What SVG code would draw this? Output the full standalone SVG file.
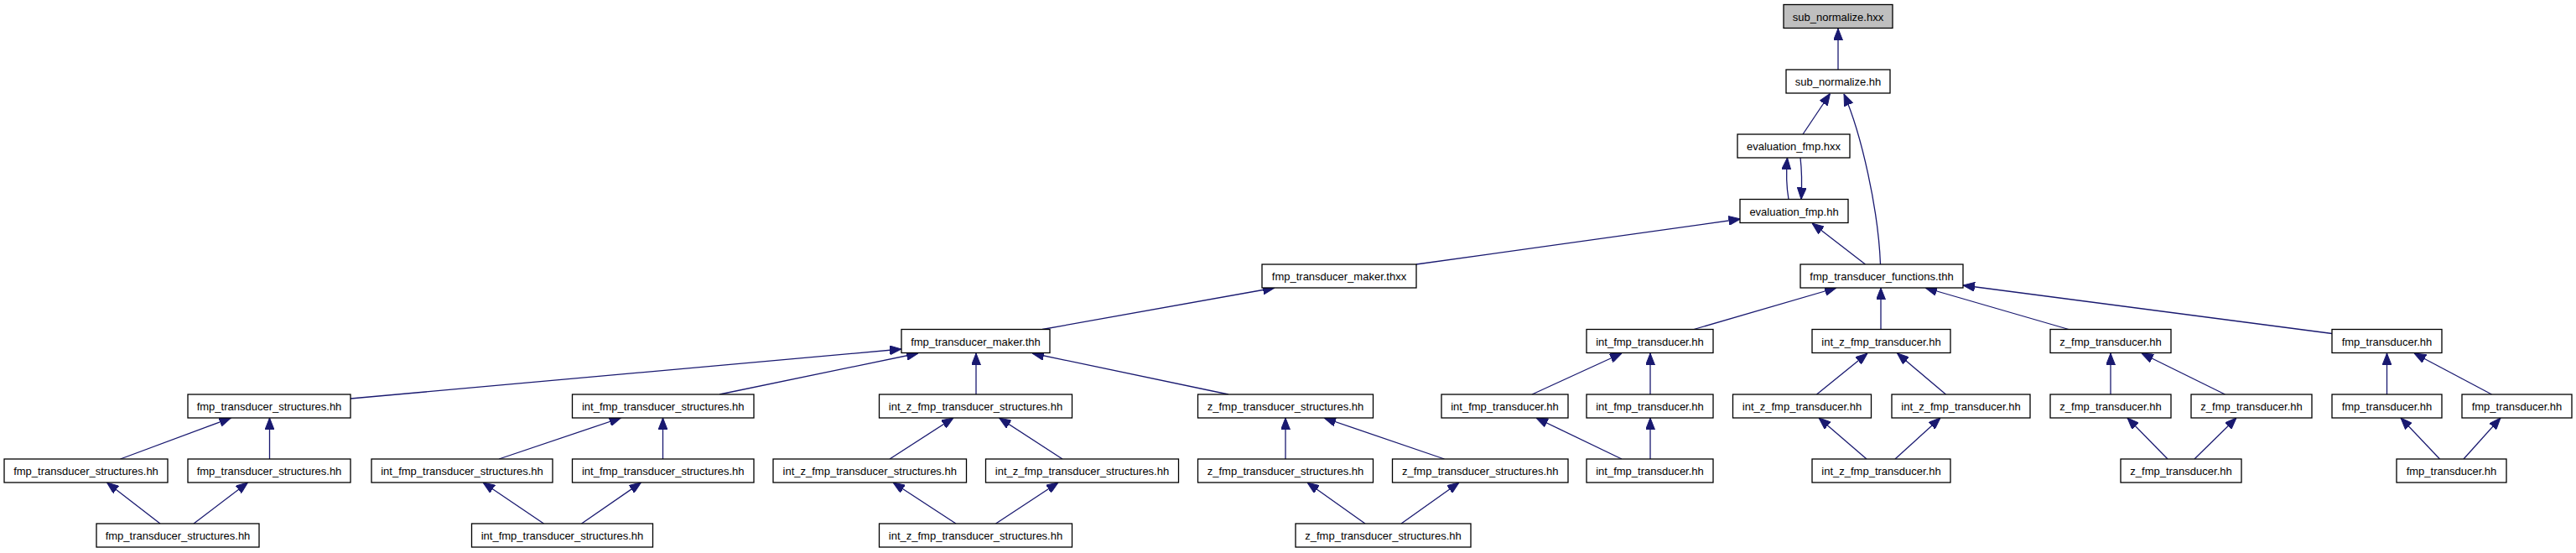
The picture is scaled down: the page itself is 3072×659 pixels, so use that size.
<svg xmlns="http://www.w3.org/2000/svg" width="3072" height="659" viewBox="0 0 3072 659">
<style>
.n rect{fill:#ffffff;stroke:#000000;stroke-width:1.3}
.n.root rect{fill:#bfbfbf}
.n text{font-family:"Liberation Sans",Arial,sans-serif;font-size:13px;fill:#000000;text-anchor:middle}
.e path{fill:none;stroke:#191970;stroke-width:1.3;marker-end:url(#ah)}
</style>
<defs>
<marker id="ah" viewBox="0 0 14 11" markerWidth="14" markerHeight="11" refX="14" refY="5.5" orient="auto" markerUnits="userSpaceOnUse">
<path d="M0,0 L14,5.5 L0,11 z" fill="#191970" stroke="#191970" stroke-width="1"/>
</marker>
</defs>
<rect x="0" y="0" width="3072" height="659" fill="#ffffff"/>
<g id="connectors" class="e">
<path d="M2192,83 L2192,34"/>
<path d="M2150,160 L2182.5,111.5"/>
<path d="M2242.5,315 C2240,250 2220,160 2199,112"/>
<path d="M2133,237.5 C2130,220 2130,205 2131.5,188"/>
<path d="M2147,188 C2149,205 2149,220 2148,237.5"/>
<path d="M2224.5,315 L2161,266"/>
<path d="M1689,315 L2075.5,261"/>
<path d="M1243,392.5 L1520,343"/>
<path d="M418,475 L1075,416"/>
<path d="M858,470 L1095,421"/>
<path d="M1164,470 L1164,421"/>
<path d="M1465,470 L1231,421"/>
<path d="M2020,392.5 L2190,343"/>
<path d="M2243,392.5 L2243,343"/>
<path d="M2467,392.5 L2296,343"/>
<path d="M2781,397.5 L2341,340"/>
<path d="M1827,470 L1934,421"/>
<path d="M1968,470 L1968,421"/>
<path d="M2166.5,470 L2227,421"/>
<path d="M2320.5,470 L2262.5,421"/>
<path d="M2517,470 L2517,421"/>
<path d="M2653.5,470 L2554,421"/>
<path d="M2846.5,470 L2846.5,421"/>
<path d="M2971.5,470 L2879,421"/>
<path d="M1934,547 L1832,498"/>
<path d="M1968,547 L1968,498"/>
<path d="M2226,547 L2169,498"/>
<path d="M2260,547 L2314,498"/>
<path d="M2585,547 L2537,498"/>
<path d="M2617,547 L2667,498"/>
<path d="M2909.5,547 L2863,498"/>
<path d="M2938,547 L2982,498"/>
<path d="M143.5,547 L275.5,498"/>
<path d="M321.5,547 L321.5,498"/>
<path d="M595,547 L740.5,498"/>
<path d="M790.5,547 L790.5,498"/>
<path d="M1061,547 L1137,498"/>
<path d="M1267,547 L1191.5,498"/>
<path d="M1533,547 L1533,498"/>
<path d="M1722.5,547 L1579,498"/>
<path d="M191,624 L127.5,575"/>
<path d="M231,624 L295.5,575"/>
<path d="M648.5,624 L576,575"/>
<path d="M693.5,624 L764.5,575"/>
<path d="M1140,624 L1065,575"/>
<path d="M1187.5,624 L1262,575"/>
<path d="M1628,624 L1559,575"/>
<path d="M1671,624 L1740,575"/>
</g>
<g id="n0" class="n root"><rect x="2127" y="5.5" width="130" height="28"/><text x="2192" y="24.5">sub_normalize.hxx</text></g>
<g id="n1" class="n"><rect x="2130" y="83" width="124" height="28"/><text x="2192" y="102">sub_normalize.hh</text></g>
<g id="n2" class="n"><rect x="2072" y="160" width="134" height="28"/><text x="2139" y="179">evaluation_fmp.hxx</text></g>
<g id="n3" class="n"><rect x="2075" y="237.5" width="129" height="28"/><text x="2139.5" y="256.5">evaluation_fmp.hh</text></g>
<g id="n4" class="n"><rect x="1505" y="315" width="184" height="28"/><text x="1597" y="334">fmp_transducer_maker.thxx</text></g>
<g id="n5" class="n"><rect x="2147" y="315" width="194" height="28"/><text x="2244" y="334">fmp_transducer_functions.thh</text></g>
<g id="n6" class="n"><rect x="1075" y="392.5" width="177" height="28"/><text x="1163.5" y="411.5">fmp_transducer_maker.thh</text></g>
<g id="n7" class="n"><rect x="1892" y="392.5" width="151" height="28"/><text x="1967.5" y="411.5">int_fmp_transducer.hh</text></g>
<g id="n8" class="n"><rect x="2161" y="392.5" width="165" height="28"/><text x="2243.5" y="411.5">int_z_fmp_transducer.hh</text></g>
<g id="n9" class="n"><rect x="2445" y="392.5" width="144" height="28"/><text x="2517" y="411.5">z_fmp_transducer.hh</text></g>
<g id="n10" class="n"><rect x="2781" y="392.5" width="131" height="28"/><text x="2846.5" y="411.5">fmp_transducer.hh</text></g>
<g id="n11" class="n"><rect x="224" y="470" width="194" height="28"/><text x="321" y="489">fmp_transducer_structures.hh</text></g>
<g id="n12" class="n"><rect x="682.5" y="470" width="216.5" height="28"/><text x="790.75" y="489">int_fmp_transducer_structures.hh</text></g>
<g id="n13" class="n"><rect x="1048.5" y="470" width="230" height="28"/><text x="1163.5" y="489">int_z_fmp_transducer_structures.hh</text></g>
<g id="n14" class="n"><rect x="1428.5" y="470" width="209" height="28"/><text x="1533" y="489">z_fmp_transducer_structures.hh</text></g>
<g id="n15" class="n"><rect x="1719" y="470" width="151" height="28"/><text x="1794.5" y="489">int_fmp_transducer.hh</text></g>
<g id="n16" class="n"><rect x="1892" y="470" width="151" height="28"/><text x="1967.5" y="489">int_fmp_transducer.hh</text></g>
<g id="n17" class="n"><rect x="2066.5" y="470" width="165" height="28"/><text x="2149" y="489">int_z_fmp_transducer.hh</text></g>
<g id="n18" class="n"><rect x="2256" y="470" width="165" height="28"/><text x="2338.5" y="489">int_z_fmp_transducer.hh</text></g>
<g id="n19" class="n"><rect x="2445" y="470" width="144" height="28"/><text x="2517" y="489">z_fmp_transducer.hh</text></g>
<g id="n20" class="n"><rect x="2613" y="470" width="144" height="28"/><text x="2685" y="489">z_fmp_transducer.hh</text></g>
<g id="n21" class="n"><rect x="2781" y="470" width="131" height="28"/><text x="2846.5" y="489">fmp_transducer.hh</text></g>
<g id="n22" class="n"><rect x="2936" y="470" width="131" height="28"/><text x="3001.5" y="489">fmp_transducer.hh</text></g>
<g id="n23" class="n"><rect x="5" y="547" width="195" height="28"/><text x="102.5" y="566">fmp_transducer_structures.hh</text></g>
<g id="n24" class="n"><rect x="224" y="547" width="194" height="28"/><text x="321" y="566">fmp_transducer_structures.hh</text></g>
<g id="n25" class="n"><rect x="443" y="547" width="216" height="28"/><text x="551" y="566">int_fmp_transducer_structures.hh</text></g>
<g id="n26" class="n"><rect x="682.5" y="547" width="216.5" height="28"/><text x="790.75" y="566">int_fmp_transducer_structures.hh</text></g>
<g id="n27" class="n"><rect x="922" y="547" width="230.5" height="28"/><text x="1037.25" y="566">int_z_fmp_transducer_structures.hh</text></g>
<g id="n28" class="n"><rect x="1175.5" y="547" width="230" height="28"/><text x="1290.5" y="566">int_z_fmp_transducer_structures.hh</text></g>
<g id="n29" class="n"><rect x="1428.5" y="547" width="209" height="28"/><text x="1533" y="566">z_fmp_transducer_structures.hh</text></g>
<g id="n30" class="n"><rect x="1660.5" y="547" width="209.5" height="28"/><text x="1765.25" y="566">z_fmp_transducer_structures.hh</text></g>
<g id="n31" class="n"><rect x="1892" y="547" width="151" height="28"/><text x="1967.5" y="566">int_fmp_transducer.hh</text></g>
<g id="n32" class="n"><rect x="2161" y="547" width="165" height="28"/><text x="2243.5" y="566">int_z_fmp_transducer.hh</text></g>
<g id="n33" class="n"><rect x="2529" y="547" width="144" height="28"/><text x="2601" y="566">z_fmp_transducer.hh</text></g>
<g id="n34" class="n"><rect x="2858" y="547" width="131" height="28"/><text x="2923.5" y="566">fmp_transducer.hh</text></g>
<g id="n35" class="n"><rect x="115" y="624" width="194" height="28"/><text x="212" y="643">fmp_transducer_structures.hh</text></g>
<g id="n36" class="n"><rect x="562.5" y="624" width="216" height="28"/><text x="670.5" y="643">int_fmp_transducer_structures.hh</text></g>
<g id="n37" class="n"><rect x="1048.5" y="624" width="230" height="28"/><text x="1163.5" y="643">int_z_fmp_transducer_structures.hh</text></g>
<g id="n38" class="n"><rect x="1545" y="624" width="209" height="28"/><text x="1649.5" y="643">z_fmp_transducer_structures.hh</text></g>
</svg>
